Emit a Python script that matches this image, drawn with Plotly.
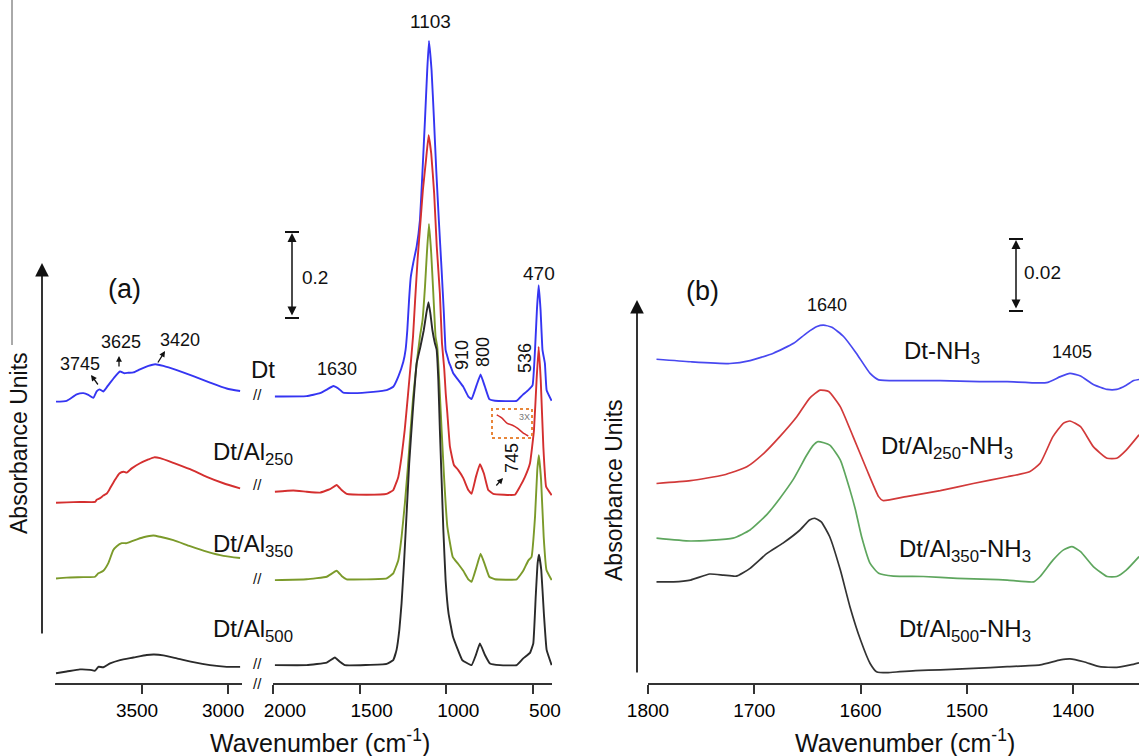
import plotly.graph_objects as go

W, H = 1139, 756
FONT = "Arial, 'Liberation Sans', sans-serif"

# ---------------- Panel (a): 4000-2920 cm-1 segment ----------------
dt_hi_wn = [4000, 3938, 3880, 3841, 3812, 3783, 3764, 3748, 3725, 3696, 3657, 3628, 3605, 3580,
            3550, 3512, 3463, 3424, 3376, 3298, 3202, 3105, 3008, 2930]
dt_hi_abs = [0.662, 0.664, 0.679, 0.682, 0.678, 0.671, 0.686, 0.691, 0.686, 0.701, 0.721, 0.733,
             0.729, 0.730, 0.731, 0.738, 0.746, 0.750, 0.746, 0.736, 0.722, 0.707, 0.693, 0.687]

al250_hi_wn = [4000, 3938, 3861, 3773, 3764, 3744, 3725, 3705, 3686, 3657, 3632, 3608, 3589, 3560,
               3512, 3463, 3430, 3395, 3318, 3221, 3124, 3027, 2930]
al250_hi_abs = [0.424, 0.425, 0.426, 0.426, 0.431, 0.435, 0.441, 0.446, 0.458, 0.478, 0.493, 0.497,
                0.495, 0.505, 0.517, 0.526, 0.531, 0.529, 0.518, 0.503, 0.485, 0.470, 0.458]

al350_hi_wn = [4000, 3938, 3841, 3773, 3754, 3725, 3696, 3667, 3647, 3618, 3589, 3550, 3492, 3434,
               3395, 3318, 3221, 3124, 3027, 2930]
al350_hi_abs = [0.246, 0.248, 0.249, 0.250, 0.258, 0.264, 0.282, 0.313, 0.322, 0.329, 0.329, 0.335,
                0.343, 0.347, 0.344, 0.336, 0.322, 0.309, 0.299, 0.294]

al500_hi_wn = [4000, 3938, 3861, 3802, 3773, 3754, 3725, 3686, 3628, 3550, 3473, 3430, 3376, 3298,
               3202, 3105, 3008, 2930]
al500_hi_abs = [0.023, 0.027, 0.032, 0.031, 0.029, 0.038, 0.037, 0.046, 0.054, 0.060, 0.066, 0.067,
                0.065, 0.058, 0.049, 0.042, 0.038, 0.038]

# ---------------- Panel (a): 2000-390 cm-1 segment ----------------
dt_lo_wn = [1989, 1806, 1729, 1687, 1652, 1623, 1594, 1537, 1421, 1344, 1306, 1277, 1248, 1235,
            1225, 1215, 1205, 1190, 1171, 1152, 1137, 1123, 1110, 1100, 1085, 1071, 1058, 1043,
            1027, 1014, 1004, 995, 985, 975, 960, 931, 902, 873, 854, 825, 802, 777, 752, 719,
            594, 559, 527, 502, 488, 477, 467, 456, 445, 431, 421, 392]
dt_lo_abs = [0.674, 0.675, 0.682, 0.691, 0.699, 0.693, 0.683, 0.682, 0.685, 0.689, 0.697, 0.721,
             0.756, 0.784, 0.830, 0.900, 0.955, 0.990, 1.027, 1.089, 1.207, 1.325, 1.442, 1.511,
             1.442, 1.325, 1.207, 1.089, 0.972, 0.870, 0.784, 0.770, 0.755, 0.745, 0.729, 0.713,
             0.697, 0.674, 0.668, 0.701, 0.726, 0.697, 0.668, 0.664, 0.664, 0.678, 0.689, 0.701,
             0.784, 0.878, 0.936, 0.878, 0.784, 0.752, 0.689, 0.664]

al250_lo_wn = [1989, 1883, 1806, 1729, 1671, 1633, 1604, 1575, 1460, 1344, 1306, 1277, 1258, 1240,
               1222, 1205, 1192, 1180, 1165, 1150, 1135, 1117, 1102, 1087, 1070, 1055, 1037, 1025,
               1012, 1003, 994, 979, 956, 931, 902, 873, 854, 829, 806, 783, 758, 729, 604, 575,
               546, 517, 494, 479, 467, 455, 440, 424, 392]
al250_lo_abs = [0.450, 0.453, 0.450, 0.448, 0.456, 0.466, 0.454, 0.445, 0.443, 0.445, 0.454, 0.485,
                0.533, 0.595, 0.674, 0.752, 0.815, 0.900, 1.000, 1.080, 1.160, 1.231, 1.289, 1.246,
                1.152, 1.027, 0.917, 0.800, 0.740, 0.680, 0.635, 0.556, 0.513, 0.501, 0.482, 0.454,
                0.445, 0.485, 0.515, 0.493, 0.454, 0.445, 0.443, 0.462, 0.485, 0.517, 0.595, 0.713,
                0.791, 0.713, 0.556, 0.462, 0.442]

al350_lo_wn = [1989, 1806, 1690, 1633, 1604, 1575, 1344, 1306, 1277, 1258, 1239, 1223, 1206, 1191,
               1171, 1152, 1137, 1123, 1112, 1100, 1087, 1075, 1062, 1052, 1041, 1027, 1012, 994,
               963, 931, 902, 873, 854, 825, 802, 777, 752, 719, 594, 556, 527, 508, 488, 475, 466,
               453, 438, 422, 392]
al350_lo_abs = [0.242, 0.244, 0.250, 0.264, 0.252, 0.244, 0.246, 0.258, 0.289, 0.344, 0.423, 0.501,
                0.595, 0.674, 0.752, 0.815, 0.854, 0.932, 1.011, 1.080, 1.011, 0.917, 0.815, 0.791,
                0.713, 0.595, 0.478, 0.368, 0.297, 0.280, 0.264, 0.244, 0.238, 0.274, 0.304, 0.278,
                0.250, 0.244, 0.244, 0.264, 0.288, 0.297, 0.391, 0.501, 0.536, 0.478, 0.344, 0.266,
                0.242]

al500_lo_wn = [1989, 1806, 1690, 1643, 1614, 1585, 1344, 1306, 1287, 1271, 1258, 1244, 1229, 1214,
               1194, 1171, 1150, 1130, 1115, 1103, 1092, 1080, 1066, 1056, 1046, 1037, 1027, 1017,
               1004, 987, 962, 937, 908, 854, 829, 806, 777, 748, 690, 594, 556, 517, 498, 484,
               473, 465, 452, 437, 421, 392]
al500_lo_abs = [0.042, 0.042, 0.048, 0.060, 0.050, 0.042, 0.045, 0.054, 0.078, 0.125, 0.188, 0.282,
                0.399, 0.517, 0.635, 0.752, 0.790, 0.830, 0.870, 0.896, 0.870, 0.830, 0.800, 0.785,
                0.713, 0.595, 0.478, 0.360, 0.242, 0.164, 0.110, 0.082, 0.054, 0.042, 0.066, 0.093,
                0.066, 0.046, 0.042, 0.042, 0.058, 0.071, 0.093, 0.203, 0.282, 0.302, 0.266, 0.164,
                0.078, 0.042]

# 3X magnified inset (Dt/Al250, around 745 cm-1)
inset_wn = [790, 775, 760, 745, 730, 715, 700]
inset_abs = [0.466, 0.459, 0.447, 0.443, 0.436, 0.426, 0.419]

# ---------------- Panel (b): NH3 adsorption ----------------
dt_nh3_wn = [1792, 1760, 1723, 1704, 1682, 1663, 1651, 1641, 1635, 1627, 1616, 1604, 1591, 1583,
             1557, 1525, 1488, 1462, 1425, 1412, 1403, 1393, 1381, 1368, 1359, 1350, 1343, 1338]
dt_nh3_abs = [0.0912, 0.0905, 0.0900, 0.0908, 0.0929, 0.0957, 0.0985, 0.1004, 0.1008, 0.1002,
              0.0976, 0.0929, 0.0872, 0.0854, 0.0852, 0.0852, 0.0849, 0.0849, 0.0846, 0.0863,
              0.0872, 0.0865, 0.0841, 0.0827, 0.0827, 0.0839, 0.0852, 0.0855]

al250_nh3_wn = [1792, 1760, 1729, 1707, 1691, 1676, 1660, 1648, 1638, 1630, 1619, 1607, 1594, 1583,
                1579, 1557, 1525, 1494, 1462, 1441, 1431, 1419, 1409, 1403, 1393, 1381, 1368, 1359,
                1350, 1338]
al250_nh3_abs = [0.0562, 0.0570, 0.0586, 0.0609, 0.0647, 0.0694, 0.0750, 0.0802, 0.0825, 0.0821,
                 0.0778, 0.0694, 0.0600, 0.0525, 0.0514, 0.0525, 0.0542, 0.0562, 0.0581, 0.0595,
                 0.0619, 0.0694, 0.0732, 0.0738, 0.0722, 0.0666, 0.0633, 0.0633, 0.0656, 0.0699]

al350_nh3_wn = [1792, 1760, 1720, 1704, 1688, 1676, 1663, 1651, 1645, 1640, 1629, 1619, 1610, 1605,
                1599, 1591, 1583, 1569, 1541, 1509, 1478, 1462, 1437, 1431, 1419, 1409, 1401, 1393,
                1381, 1368, 1359, 1350, 1338]
al350_nh3_abs = [0.0408, 0.0400, 0.0408, 0.0431, 0.0475, 0.0520, 0.0575, 0.0640, 0.0668, 0.0680,
                 0.0670, 0.0628, 0.0544, 0.0490, 0.0412, 0.0337, 0.0309, 0.0301, 0.0300, 0.0295,
                 0.0292, 0.0290, 0.0285, 0.0300, 0.0346, 0.0375, 0.0384, 0.0370, 0.0328, 0.0300,
                 0.0300, 0.0318, 0.0356]

al500_nh3_wn = [1792, 1776, 1760, 1742, 1729, 1717, 1704, 1688, 1673, 1657, 1648, 1643, 1637, 1629,
                1619, 1610, 1600, 1591, 1585, 1575, 1563, 1548, 1525, 1494, 1462, 1431, 1412, 1403,
                1390, 1375, 1359, 1346, 1338]
al500_nh3_abs = [0.0285, 0.0285, 0.0290, 0.0307, 0.0304, 0.0301, 0.0323, 0.0365, 0.0394, 0.0431,
                 0.0459, 0.0464, 0.0454, 0.0412, 0.0318, 0.0215, 0.0121, 0.0055, 0.0032, 0.0029,
                 0.0032, 0.0035, 0.0037, 0.0041, 0.0046, 0.0051, 0.0065, 0.0068, 0.0060, 0.0046,
                 0.0044, 0.0051, 0.0057]

tick_a_hi = [3500, 3000]
tick_a_lo = [2000, 1500, 1000, 500]
tick_b = [1800, 1700, 1600, 1500, 1400]

# ---------------- colours ----------------
C_BLUE, C_RED, C_OLIVE, C_BLACK = "#3535f2", "#d42f2f", "#7b9a2a", "#2a2a2a"
C_BLUE_B, C_RED_B, C_GREEN_B, C_BLACK_B = "#4848f0", "#d23a3a", "#5ea65e", "#333333"

fig = go.Figure()


def add(x, y, color, xa, ya, width=1.9, smooth=0.5):
    fig.add_trace(go.Scatter(x=x, y=y, mode="lines", xaxis=xa, yaxis=ya, showlegend=False,
                             hoverinfo="skip",
                             line=dict(color=color, width=width, shape="spline", smoothing=smooth)))


for x, y, c in [(dt_hi_wn, dt_hi_abs, C_BLUE), (al250_hi_wn, al250_hi_abs, C_RED),
                (al350_hi_wn, al350_hi_abs, C_OLIVE), (al500_hi_wn, al500_hi_abs, C_BLACK)]:
    add(x, y, c, "x", "y")
for x, y, c in [(dt_lo_wn, dt_lo_abs, C_BLUE), (al250_lo_wn, al250_lo_abs, C_RED),
                (al350_lo_wn, al350_lo_abs, C_OLIVE), (al500_lo_wn, al500_lo_abs, C_BLACK)]:
    add(x, y, c, "x2", "y", smooth=0.3)
add(inset_wn, inset_abs, C_RED, "x4", "y3", width=1.5)
for x, y, c in [(dt_nh3_wn, dt_nh3_abs, C_BLUE_B), (al250_nh3_wn, al250_nh3_abs, C_RED_B),
                (al350_nh3_wn, al350_nh3_abs, C_GREEN_B), (al500_nh3_wn, al500_nh3_abs, C_BLACK_B)]:
    add(x, y, c, "x3", "y2", width=1.7)

axc = dict(showline=True, linecolor="#333", linewidth=1.7, ticks="outside", ticklen=9, tickwidth=1.7,
           tickcolor="#333", showgrid=False, zeroline=False, fixedrange=True, automargin=False,
           tickfont=dict(family=FONT, size=19, color="#000"))
hid = dict(visible=False, automargin=False, fixedrange=True)

# reversed (high-to-low) axes: a positive label shift moves labels leftwards on screen
fig.update_layout(
    width=W, height=H, margin=dict(l=0, r=0, t=0, b=0, pad=0, autoexpand=False),
    paper_bgcolor="white", plot_bgcolor="white",
    xaxis=dict(domain=[55 / W, 242 / W], range=[4006, 2919], tickvals=tick_a_hi, anchor="y",
               ticklabelshift=5, **axc),
    xaxis2=dict(domain=[273 / W, 552 / W], range=[2000, 390], tickvals=tick_a_lo, anchor="y",
                ticklabelshift=-12, **axc),
    xaxis3=dict(domain=[648 / W, 1.0], range=[1800, 1338], tickvals=tick_b, anchor="y2", **axc),
    yaxis=dict(domain=[73 / H, 1], range=[0, 683 / 425], anchor="x", **hid),
    yaxis2=dict(domain=[73 / H, 1], range=[0, 683 / 3550], anchor="x3", **hid),
    xaxis4=dict(domain=[495 / W, 530 / W], range=[795, 695], anchor="y3", **hid),
    yaxis3=dict(domain=[1 - 438 / H, 1 - 410 / H], range=[0.4145, 0.477], anchor="x4", **hid),
)


def px(x):
    return x / W


def py(y):
    return 1 - y / H


ann = []


def text(t, x, y, size=18, angle=0, xanchor="center", color="#111"):
    ann.append(dict(text=t, x=px(x), y=py(y), xref="paper", yref="paper", showarrow=False,
                    font=dict(family=FONT, size=size, color=color), textangle=angle,
                    xanchor=xanchor, yanchor="middle"))


def arrow(hx, hy, tx, ty, width=1.5, size=1.0, head=2, side="end"):
    ann.append(dict(text="", x=px(hx), y=py(hy), xref="paper", yref="paper", showarrow=True,
                    ax=tx - hx, ay=ty - hy, axref="pixel", ayref="pixel", arrowhead=head,
                    arrowsize=size, arrowwidth=width, arrowcolor="#111", arrowside=side,
                    standoff=0, startstandoff=0))


# Panel (a) texts
text("(a)", 124, 289, size=27)
text("3745", 80, 364)
text("3625", 121, 342)
text("3420", 180, 340)
text("Dt", 263, 369, size=24)
text("Dt/Al<sub>250</sub>", 211, 453, size=24, xanchor="left")
text("Dt/Al<sub>350</sub>", 211, 545, size=24, xanchor="left")
text("Dt/Al<sub>500</sub>", 211, 630, size=24, xanchor="left")
text("1630", 337, 369)
text("1103", 430, 21, size=19)
text("0.2", 315, 277, size=19)
text("470", 539, 273, size=19)
text("910", 462, 355, angle=-90)
text("800", 483, 352, angle=-90)
text("536", 525, 358, angle=-90)
text("745", 512, 458, angle=-90)
text("3X", 524, 417, size=9, color="#777")
text("Absorbance Units", 19, 443, size=23, angle=-90)
text("Wavenumber (cm<sup>-1</sup>)", 320, 741, size=25)
for yy in [395, 484, 578, 663, 683]:
    text("//", 257, yy, size=15)

# Panel (b) texts
text("(b)", 703, 291, size=27)
text("1640", 827, 305)
text("1405", 1072, 352)
text("0.02", 1042, 272, size=19)
text("Dt-NH<sub>3</sub>", 942, 352, size=24)
text("Dt/Al<sub>250</sub>-NH<sub>3</sub>", 947, 447, size=24)
text("Dt/Al<sub>350</sub>-NH<sub>3</sub>", 965, 550, size=24)
text("Dt/Al<sub>500</sub>-NH<sub>3</sub>", 965, 630, size=24)
text("Absorbance Units", 614, 490, size=23, angle=-90)
text("Wavenumber (cm<sup>-1</sup>)", 905, 741, size=25)

# label arrows
arrow(91, 375, 99, 386, width=1.3, size=0.9)
arrow(119, 356, 119, 368, width=1.3, size=0.9)
arrow(165, 351, 157, 364, width=1.3, size=0.9)
arrow(503, 478, 495, 487, width=1.3, size=0.9)
# axis arrows
arrow(42, 263, 42, 635, width=1.7, size=1.6)
arrow(637, 300, 637, 674, width=1.7, size=1.6)
# scale bars
arrow(292, 233, 292, 317, width=1.5, size=1.2, side="end+start")
arrow(1016, 240, 1016, 310, width=1.5, size=1.2, side="end+start")

fig.update_layout(annotations=ann)

shapes = []
for (x0, y0) in [(292, 232), (292, 318), (1016, 239), (1016, 311)]:
    shapes.append(dict(type="line", xref="paper", yref="paper", x0=px(x0 - 7), x1=px(x0 + 7),
                       y0=py(y0), y1=py(y0), line=dict(color="#111", width=2)))
# dotted inset frame
shapes.append(dict(type="rect", xref="paper", yref="paper", x0=px(492), x1=px(532), y0=py(438),
                   y1=py(409), line=dict(color="#e8863a", width=2, dash="dot")))
# thin frame line at left edge
shapes.append(dict(type="line", xref="paper", yref="paper", x0=px(12), x1=px(12), y0=py(0),
                   y1=py(345), line=dict(color="#555", width=1)))
fig.update_layout(shapes=shapes)

fig.write_html("out.html")
